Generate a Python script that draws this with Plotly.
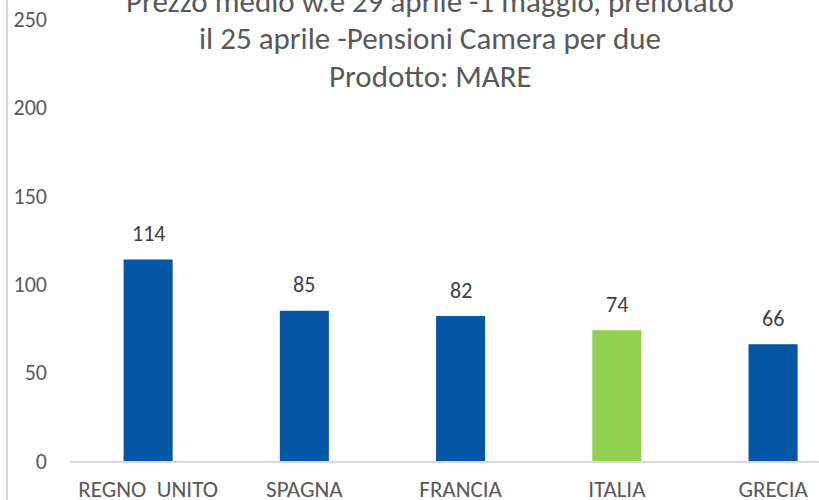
import plotly.graph_objects as go

categories = ["REGNO  UNITO", "SPAGNA", "FRANCIA", "ITALIA", "GRECIA"]
values = [114, 85, 82, 74, 66]
bar_colors = ["#0556A5", "#0556A5", "#0556A5", "#92D050", "#0556A5"]
y_ticks = [0, 50, 100, 150, 200, 250]
title_lines = [
    "Prezzo medio w.e 29 aprile -1 maggio, prenotato",
    "il 25 aprile -Pensioni Camera per due",
    "Prodotto: MARE",
]

FONT = "Carlito, Lato, sans-serif"
TXT = "#595959"

L, T, B = 70, 18.5, 39
PW, PH = 819 - L, 500 - T - B

fig = go.Figure(
    go.Bar(
        x=list(range(len(categories))),
        y=values,
        marker=dict(color=bar_colors, line=dict(width=0)),
        cliponaxis=False,
        hoverinfo="skip",
    )
)

annotations = [
    dict(
        x=i, y=v, xref="x", yref="y",
        text=str(v), showarrow=False,
        yanchor="middle", yshift=26,
        font=dict(family=FONT, size=22, color="#404040"),
    )
    for i, v in enumerate(values)
]
for k, line in enumerate(title_lines):
    annotations.append(
        dict(
            x=(430 - L) / PW, y=(500 - B - (0 + 38 * k)) / PH,
            xref="paper", yref="paper",
            xanchor="center", yanchor="middle",
            text=line, showarrow=False,
            font=dict(family=FONT, size=31, color=TXT),
        )
    )

fig.update_layout(
    width=819,
    height=500,
    margin=dict(l=L, r=0, t=T, b=B, autoexpand=False),
    paper_bgcolor="white",
    plot_bgcolor="white",
    showlegend=False,
    bargap=0.686,
    annotations=annotations,
    xaxis=dict(
        range=[-0.5, 4.294],
        tickmode="array",
        tickvals=list(range(len(categories))),
        ticktext=[c.replace("  ", " \u00a0") for c in categories],
        showline=True,
        linecolor="#D9D9D9",
        linewidth=1.5,
        showgrid=False,
        zeroline=False,
        ticks="",
        automargin=False,
        tickfont=dict(family=FONT, size=23, color=TXT),
        ticklabelstandoff=7,
    ),
    yaxis=dict(
        range=[0, 250],
        tickmode="array",
        tickvals=y_ticks,
        showgrid=False,
        zeroline=False,
        showline=False,
        ticks="",
        automargin=False,
        tickfont=dict(family=FONT, size=22, color=TXT),
        ticklabelstandoff=22,
    ),
    shapes=[
        dict(
            type="line",
            xref="paper",
            yref="paper",
            x0=(7 - L) / PW,
            x1=(7 - L) / PW,
            y0=-1,
            y1=2,
            line=dict(color="#D9D9D9", width=2),
        )
    ],
)

fig.write_html(
    "out.html",
    config={"displayModeBar": False},
    post_script="document.body.style.margin='0px';",
)
